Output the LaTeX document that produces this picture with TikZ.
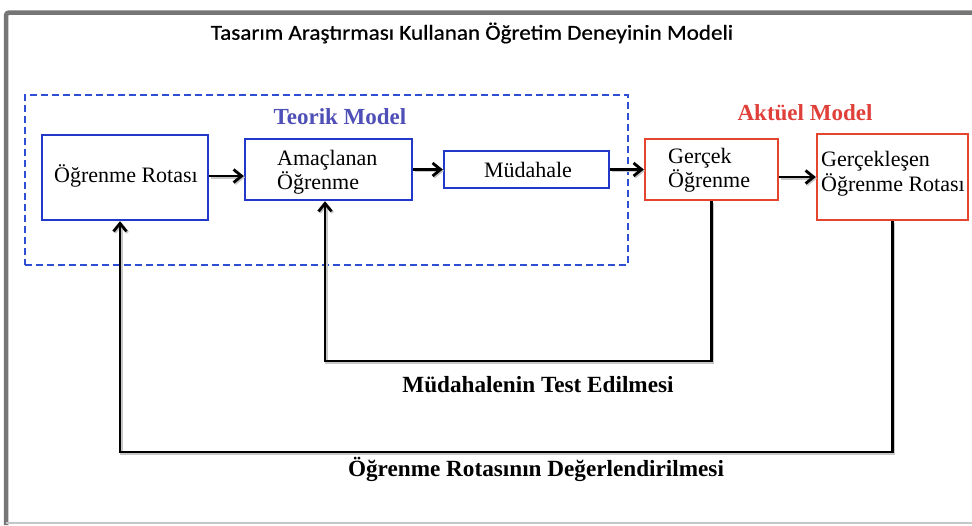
\documentclass[tikz,border=0pt]{standalone}
\usepackage{fontspec}
\setmainfont{Liberation Serif}
\newfontfamily\titlefont[FakeStretch=1.08, FakeBold=0.6]{Carlito}
\usetikzlibrary{arrows.meta}
\definecolor{boxblue}{HTML}{2238C8}
\definecolor{dashblue}{HTML}{2E4FD4}
\definecolor{theoryblue}{HTML}{4F4FB8}
\definecolor{boxred}{HTML}{E5452E}
\definecolor{actualred}{HTML}{E0403A}
\definecolor{framegray}{HTML}{767676}
\tikzset{
  bluebox/.style={draw=boxblue, line width=2.4pt, fill=white, inner sep=0pt},
  redbox/.style={draw=boxred, line width=2.4pt, fill=white, inner sep=0pt},
  boxtext/.style={font=\fontsize{22}{24.5}\selectfont, align=left, inner sep=0pt},
  flow/.style={line width=2.8pt, -{Straight Barb[length=8pt,width=13pt,line width=2.8pt]},
    preaction={draw=black!22, line width=3pt,
      transform canvas={shift={(1.3pt,-1.3pt)}}}},
  heading/.style={font=\bfseries\fontsize{23}{26}\selectfont, inner sep=0pt},
  sublabel/.style={font=\bfseries\fontsize{23.2}{26}\selectfont, inner sep=0pt},
}
\begin{document}
\begin{tikzpicture}[x=1pt, y=-1pt]
\useasboundingbox (0,0) rectangle (972,525);
\fill[white] (0,0) rectangle (972,525);

% window frame
\draw[framegray, line width=4.5pt, rounded corners=3pt] (6,525) -- (6,12.5) -- (972,12.5);
\draw[black!22, line width=2pt] (6,523) -- (972,523);

% title
\node[font=\titlefont\fontsize{21.4}{24}\selectfont, inner sep=0pt] (title) at (472,33)
  {Tasarım Araştırması Kullanan Öğretim Deneyinin Modeli};

% theoretical model frame
\node[draw=dashblue, line width=2.4pt, dash pattern=on 7pt off 4pt,
      minimum width=603pt, minimum height=170pt, inner sep=0pt] (theory) at (326.5,180) {};
\node[heading, text=theoryblue] (theorylbl) at (340,117) {Teorik Model};
\node[heading, text=actualred] (actuallbl) at (805,113) {Aktüel Model};

% boxes
\node[bluebox, minimum width=166pt, minimum height=85pt] (rota) at (125,177.5) {};
\node[boxtext] (rotatxt) at (126,176) {Öğrenme Rotası};

\node[bluebox, minimum width=167pt, minimum height=61pt] (amac) at (328.5,169.5) {};
\node[boxtext, anchor=west] (amactxt) at (277,172) {Amaçlanan\\Öğrenme};

\node[bluebox, minimum width=165pt, minimum height=37pt] (mud) at (526.5,169.5) {};
\node[boxtext] (mudtxt) at (528,170) {Müdahale};

\node[redbox, minimum width=133pt, minimum height=61pt] (gercek) at (711.5,169.5) {};
\node[boxtext, anchor=west] (gercektxt) at (668,170) {Gerçek\\Öğrenme};

\node[redbox, minimum width=151pt, minimum height=86pt] (gerrota) at (892.5,177) {};
\node[boxtext, anchor=west] (gerrotatxt) at (821,173.5) {Gerçekleşen\\Öğrenme Rotası};

% forward flow
\draw[flow] ([yshift=1.5pt]rota.east) -- ([yshift=1.5pt]rota.east -| amac.west);
\draw[flow] (amac.east) -- (amac.east -| mud.west);
\draw[flow] (mud.east) -- (mud.east -| gercek.west);
\draw[flow] (gerrota.west -| gercek.east) -- (gerrota.west);

% feedback loops
\coordinate (testy) at (0,361);
\coordinate (evaly) at (0,452);
\draw[flow] (gercek.south) -- (gercek.south |- testy) -| ([xshift=-3.5pt]amac.south);
\draw[flow] (gerrota.south) -- (gerrota.south |- evaly) -| ([xshift=-5pt]rota.south);

\node[sublabel] (testlbl) at (538,385) {Müdahalenin Test Edilmesi};
\node[sublabel] (evallbl) at (536,469) {Öğrenme Rotasının Değerlendirilmesi};
\end{tikzpicture}
\end{document}
